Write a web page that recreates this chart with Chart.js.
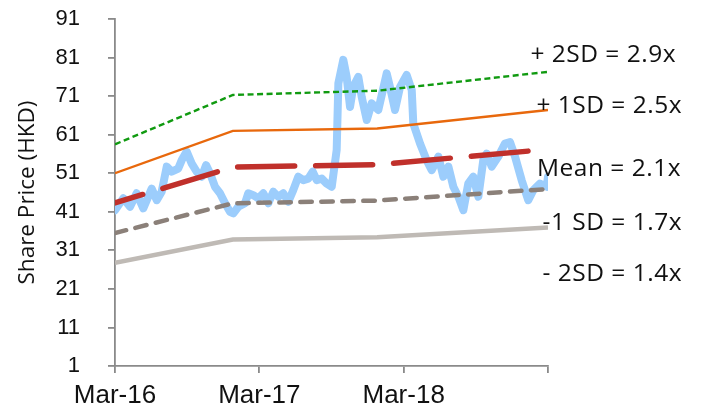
<!DOCTYPE html>
<html>
<head>
<meta charset="utf-8">
<script src="https://cdn.jsdelivr.net/npm/chart.js@4.4.1/dist/chart.umd.min.js"></script>
<style>
  html, body { margin: 0; padding: 0; background: #ffffff; }
  #wrap { width: 703px; height: 417px; position: relative; }
</style>
</head>
<body>
<div id="wrap"><canvas id="chart" width="703" height="417"></canvas></div>
<script>
// Time axis is in months from Mar-16; ticks every 12 months.
const xTickLabels = ['Mar-16', 'Mar-17', 'Mar-18', ''];

// Daily share price (HKD), sampled.
const priceMonths = [
  0.00, 0.69, 1.25, 1.80, 2.35, 3.05, 3.47, 3.88, 4.30, 4.71, 5.26, 5.55, 5.96, 6.38, 6.79,
  7.21, 7.57, 7.90, 8.31, 8.73, 9.15, 9.56, 9.84, 10.25, 10.81, 11.08, 11.50, 11.91, 12.33,
  12.75, 13.16, 13.58, 13.99, 14.41, 14.82, 15.24, 15.66, 16.07, 16.44, 16.77, 17.19, 17.60,
  18.02, 18.43, 18.57, 18.98, 19.26, 19.54, 19.81, 20.23, 20.51, 20.93, 21.34, 21.89, 22.59,
  22.86, 23.28, 23.70, 24.25, 24.67, 24.80, 25.36, 25.91, 26.33, 26.89, 27.30, 27.72, 28.13,
  28.55, 28.96, 29.37, 29.79, 30.21, 30.62, 30.90, 31.32, 31.87, 32.42, 32.84, 33.26, 33.81,
  34.36, 34.78, 35.33, 35.89, 36.00
];
const priceValues = [
  41.4, 44.5, 42.3, 45.8, 41.9, 47.0, 44.0, 46.2, 52.7, 51.4, 52.2, 54.4, 56.6, 53.5, 51.4,
  50.1, 53.1, 51.0, 47.5, 45.8, 43.2, 41.0, 40.6, 42.3, 43.2, 45.8, 45.3, 44.5, 45.8,
  43.2, 46.2, 44.9, 45.8, 43.6, 46.6, 50.1, 49.2, 49.6, 51.4, 49.2, 49.6, 48.3,
  47.5, 57.0, 74.3, 80.4, 76.0, 68.2, 73.4, 76.0, 70.8, 64.8, 69.1, 67.4, 76.9,
  73.4, 67.4, 73.4, 76.5, 72.6, 63.9, 58.7, 54.4, 51.8, 55.3, 50.1, 52.7, 47.5,
  44.9, 41.4, 48.3, 50.1, 44.9, 54.4, 56.1, 52.7, 55.3, 58.7, 59.1, 55.3, 49.2,
  44.0, 46.6, 48.3, 47.5, 50.1
];

// P/B band lines (HKD), with breaks at each book-value update.
const bandMonths = [0, 9.8, 21.8, 36];
const plus2sd  = [58.5, 71.3, 72.4, 77.3];
const plus1sd  = [51.0, 62.0, 62.6, 67.4];
const meanBand = [43.3, 52.6, 53.2, 57.2];
const minus1sd = [35.5, 43.2, 43.9, 46.9];
const minus2sd = [27.8, 33.8, 34.4, 36.9];

const bandLabels = ['+ 2SD = 2.9x', '+ 1SD = 2.5x', 'Mean = 2.1x', '-1 SD = 1.7x', '- 2SD = 1.4x'];

const toPoints = (xs, ys) => xs.map((x, i) => ({ x: x, y: ys[i] }));

const AXIS_GREY = '#8a8a8a';

// Band captions in the right margin.
const bandLabelPlugin = {
  id: 'bandLabels',
  afterDraw(chart) {
    const ctx = chart.ctx;
    const anchors = [
      { x: 676, y: 62 },
      { x: 682, y: 113 },
      { x: 681, y: 176 },
      { x: 682, y: 230 },
      { x: 682, y: 281 }
    ];
    ctx.save();
    ctx.font = '24.5px "Open Sans"';
    if ('letterSpacing' in ctx) ctx.letterSpacing = '0.5px';
    ctx.fillStyle = '#111111';
    ctx.textAlign = 'right';
    ctx.textBaseline = 'alphabetic';
    bandLabels.forEach((t, i) => ctx.fillText(t, anchors[i].x, anchors[i].y));
    ctx.restore();
  }
};

const lineBase = { pointRadius: 0, pointHoverRadius: 0, tension: 0, fill: false };

new Chart(document.getElementById('chart'), {
  type: 'line',
  data: {
    datasets: [
      Object.assign({}, lineBase, {
        label: bandLabels[0], data: toPoints(bandMonths, plus2sd),
        borderColor: '#109a10', borderWidth: 2.4, borderDash: [6, 3.5], order: 1
      }),
      Object.assign({}, lineBase, {
        label: bandLabels[1], data: toPoints(bandMonths, plus1sd),
        borderColor: '#e8680c', borderWidth: 2.3, order: 1
      }),
      Object.assign({}, lineBase, {
        label: bandLabels[2], data: toPoints(bandMonths, meanBand),
        borderColor: '#c0302b', borderWidth: 5.5, borderDash: [57, 21], borderDashOffset: 28,
        borderCapStyle: 'round', order: 1
      }),
      Object.assign({}, lineBase, {
        label: bandLabels[3], data: toPoints(bandMonths, minus1sd),
        borderColor: '#8b8079', borderWidth: 4.5, borderDash: [11.5, 9.5],
        borderCapStyle: 'round', order: 1
      }),
      Object.assign({}, lineBase, {
        label: bandLabels[4], data: toPoints(bandMonths, minus2sd),
        borderColor: '#bfbab5', borderWidth: 4.5, order: 1
      }),
      Object.assign({}, lineBase, {
        label: 'Share Price', data: toPoints(priceMonths, priceValues),
        borderColor: '#9ccdfc', borderWidth: 8, borderJoinStyle: 'round',
        borderCapStyle: 'round', order: 5
      })
    ]
  },
  options: {
    responsive: false,
    animation: false,
    devicePixelRatio: 1,
    layout: { padding: { top: 19, right: 155, bottom: 0, left: 0 } },
    plugins: { legend: { display: false }, tooltip: { enabled: false } },
    scales: {
      x: {
        type: 'linear',
        min: 0, max: 36,
        border: { color: AXIS_GREY, width: 1.8 },
        grid: { drawOnChartArea: false, drawTicks: true, tickLength: 7, color: AXIS_GREY, lineWidth: 1.8 },
        ticks: {
          stepSize: 12,
          autoSkip: false,
          maxRotation: 0,
          padding: 7,
          color: '#111111',
          font: { family: '"Liberation Sans", Arial, sans-serif', size: 26 },
          callback: (v) => xTickLabels[Math.round(v / 12)]
        },
        afterFit: (s) => { s.height = 51; }
      },
      y: {
        type: 'linear',
        min: 1, max: 91,
        border: { color: AXIS_GREY, width: 1.8 },
        grid: { drawOnChartArea: false, drawTicks: true, tickLength: 7, color: AXIS_GREY, lineWidth: 1.8 },
        ticks: {
          stepSize: 10,
          padding: 28,
          color: '#111111',
          font: { family: '"Liberation Sans", Arial, sans-serif', size: 22 }
        },
        title: {
          display: true,
          text: 'Share Price (HKD)',
          color: '#111111',
          font: { family: '"Open Sans", sans-serif', size: 22.5 },
          padding: { top: 14, bottom: 0 }
        },
        afterFit: (s) => {
          s.width = 115;
          // only the half label height is needed above and below the axis
          s.paddingTop = 13;
          s.paddingBottom = 13;
        }
      }
    }
  },
  plugins: [bandLabelPlugin]
});
</script>
</body>
</html>
